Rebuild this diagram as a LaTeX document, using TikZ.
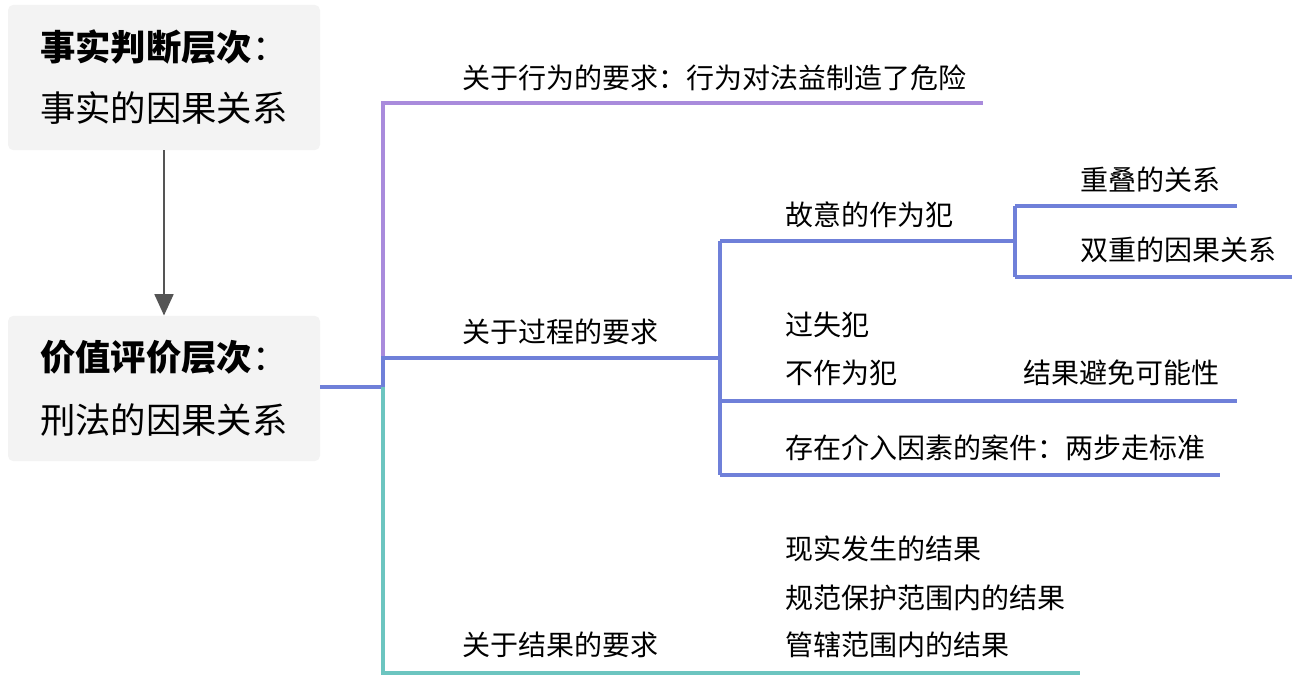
\documentclass[tikz,border=0pt]{standalone}
\usepackage{fontspec}
\setmainfont{Noto Sans CJK SC}
\usetikzlibrary{arrows.meta, positioning}
\definecolor{boxgray}{HTML}{F3F3F3}
\definecolor{purpleline}{HTML}{A98BDC}
\definecolor{blueline}{HTML}{6F80D9}
\definecolor{tealline}{HTML}{6CC5C0}
\definecolor{arrowgray}{HTML}{555555}
\begin{document}
\begin{tikzpicture}[
    x=0.75pt, y=-0.75pt,
    level/.style={rectangle, fill=boxgray, rounded corners=4pt, minimum width=234pt, minimum height=109pt, inner sep=0pt},
    leveltext/.style={font=\fontsize{26.5}{30}\selectfont, anchor=west, inner sep=0pt},
    item/.style={font=\fontsize{21}{24}\selectfont, anchor=west, inner sep=0pt},
    branch/.style={line width=3pt},
    >=stealth
]
    \useasboundingbox (0,0) rectangle (1298,677);
    % the two levels
    \node[level] (fact) at (164,77.5) {};
    \node[leveltext] (factA) at (40,47) {\textbf{事实判断层次}：};
    \node[leveltext] (factB) at (40,108) {事实的因果关系};
    \node[level] (value) at (164,388.5) {};
    \node[leveltext] (valueA) at (40,357) {\textbf{价值评价层次}：};
    \node[leveltext] (valueB) at (40,420) {刑法的因果关系};
    \draw[-{Triangle[length=16pt,width=14pt]}, line width=2pt, arrowgray] (fact.south) -- (value.north);

    % branch points
    \coordinate (root) at (383,387);
    \coordinate (act) at (383,103);
    \coordinate (proc) at (383,358);
    \coordinate (res) at (383,673);
    \coordinate (sub) at (720,358);
    \coordinate (intent) at (720,241);
    \coordinate (neg) at (720,401);
    \coordinate (inter) at (720,475);
    \coordinate (dual) at (1015,241);

    \draw[branch, blueline] (value.east |- root) -- (root);
    \draw[branch, purpleline] (proc) -- (act) -- (983,103);
    \draw[branch, tealline] (root) -- (res) -- (1080,673);
    \draw[branch, blueline] (root) -- (proc) -- (sub);
    \draw[branch, blueline] (intent) -- (inter);
    \draw[branch, blueline] (intent) -- (dual);
    \draw[branch, blueline] (1015,206) -- (1015,277);
    \draw[branch, blueline] (1015,206) -- (1237,206);
    \draw[branch, blueline] (1015,277) -- (1292,277);
    \draw[branch, blueline] (neg) -- (1237,401);
    \draw[branch, blueline] (inter) -- (1220,475);

    % labels
    \node[item] (actT) at (462,78) {关于行为的要求：行为对法益制造了危险};
    \node[item] (procT) at (462,332) {关于过程的要求};
    \node[item] (intentT) at (785,215) {故意的作为犯};
    \node[item] (overlap) at (1080,180) {重叠的关系};
    \node[item] (double) at (1080,250) {双重的因果关系};
    \node[item] (negA) at (785,325) {过失犯};
    \node[item] (negB) at (785,373) {不作为犯};
    \node[item] (avoid) at (1023,373) {结果避免可能性};
    \node[item] (interT) at (785,448) {存在介入因素的案件：两步走标准};
    \node[item] (resT) at (462,645) {关于结果的要求};
    \node[item] (resA) at (785,549) {现实发生的结果};
    \node[item] (resB) at (785,598) {规范保护范围内的结果};
    \node[item] (resC) at (785,645) {管辖范围内的结果};
\end{tikzpicture}
\end{document}
